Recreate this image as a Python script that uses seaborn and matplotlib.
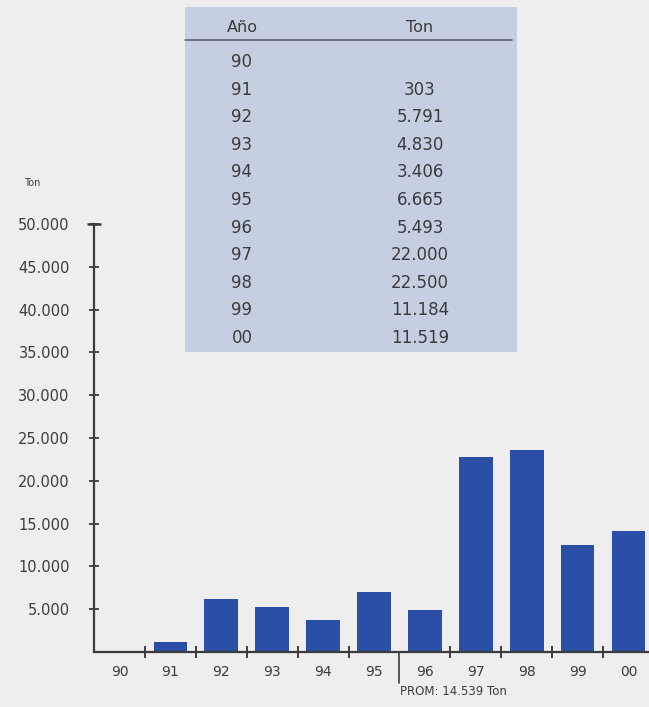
import numpy as np
import pandas as pd
import matplotlib
matplotlib.use("Agg")
import matplotlib.pyplot as plt
import matplotlib.ticker as mticker
from matplotlib.patches import Rectangle
from matplotlib.lines import Line2D
import seaborn as sns

# === Data ===
years = ["90", "91", "92", "93", "94", "95", "96", "97", "98", "99", "00"]
# bar heights as drawn
bar_tons = [0, 1170, 6230, 5260, 3700, 7000, 4900, 22800, 23600, 12500, 14100]
# values printed in the table
table_tons = ["", "303", "5.791", "4.830", "3.406", "6.665", "5.493",
              "22.000", "22.500", "11.184", "11.519"]
y_ticks = list(range(5000, 50001, 5000))
prom_label = "PROM: 14.539 Ton"

BG = "#eeeeee"
BAR = "#2b4fa6"
INK = "#3c3c3c"
TABLE_BG = "#c6cee1"

sns.set_style("white")
plt.rcParams["font.family"] = ["DejaVu Sans"]

df = pd.DataFrame({"Año": years, "Ton": bar_tons})

W, H = 649, 707
fig = plt.figure(figsize=(W / 100, H / 100), dpi=100, facecolor=BG)
ax = fig.add_axes([94 / W, (H - 652) / H, (654 - 94) / W, (652 - 224) / H])
ax.set_facecolor("none")

sns.barplot(data=df, x="Año", y="Ton", order=years, color=BAR,
            saturation=1, width=0.66, linewidth=0, ax=ax)

ax.set_xlim(-0.5, len(years) - 0.5)
ax.set_ylim(0, 50000)
ax.set_xlabel("")
ax.set_ylabel("")

for s in ["top", "right"]:
    ax.spines[s].set_visible(False)
for s in ["left", "bottom"]:
    ax.spines[s].set_color(INK)
    ax.spines[s].set_linewidth(1.6)
ax.spines["bottom"].set_clip_on(False)

# y axis ticks crossing the axis
ax.yaxis.set_major_locator(mticker.FixedLocator(y_ticks))
ax.yaxis.set_major_formatter(
    mticker.FuncFormatter(lambda v, p: f"{int(v):,}".replace(",", ".")))
ax.tick_params(axis="y", direction="inout", length=7, width=1.3,
               color=INK, labelsize=10.5, labelcolor=INK, pad=14, left=True)

# x labels at centres, ticks at category boundaries
ax.tick_params(axis="x", length=0, labelsize=10, labelcolor=INK, pad=9)
bounds = [i + 0.5 for i in range(len(years) - 1) if i != 5]
ax.xaxis.set_minor_locator(mticker.FixedLocator(bounds))
ax.tick_params(axis="x", which="minor", direction="inout", length=8,
               width=1.4, color=INK, bottom=True)

# T cap at top of y axis
ax.plot([-0.5], [50000], marker="_", markersize=10, mew=1.8,
        color=INK, clip_on=False)

# PROM divider and label
ax.plot([5.5, 5.5], [0, -3600], color=INK, lw=1.2, clip_on=False)
ax.text(5.52, -4600, prom_label, fontsize=8.5, color=INK,
        ha="left", va="center", clip_on=False)

fig.text(32 / W, 1 - 183 / H, "Ton", fontsize=7, color=INK,
         ha="center", va="center")

# === Table ===
fig.patches.append(Rectangle((185 / W, (H - 352) / H), 332 / W, 345 / H,
                             transform=fig.transFigure, facecolor=TABLE_BG,
                             edgecolor="none", zorder=2))
fig.lines.append(Line2D([185 / W, 512 / W], [1 - 40 / H, 1 - 40 / H],
                        transform=fig.transFigure, color="#555a66",
                        lw=1.1, zorder=3))
fig.text(242 / W, 1 - 27 / H, "Año", fontsize=11.5, color=INK,
         ha="center", va="center", zorder=3)
fig.text(420 / W, 1 - 27 / H, "Ton", fontsize=11.5, color=INK,
         ha="center", va="center", zorder=3)
for i, (yr, t) in enumerate(zip(years, table_tons)):
    yy = 1 - (62 + 27.6 * i) / H
    fig.text(242 / W, yy, yr, fontsize=12, color=INK,
             ha="center", va="center", zorder=3)
    fig.text(420 / W, yy, t, fontsize=12, color=INK,
             ha="center", va="center", zorder=3)

fig.savefig("out.png", dpi=100, facecolor=BG)
